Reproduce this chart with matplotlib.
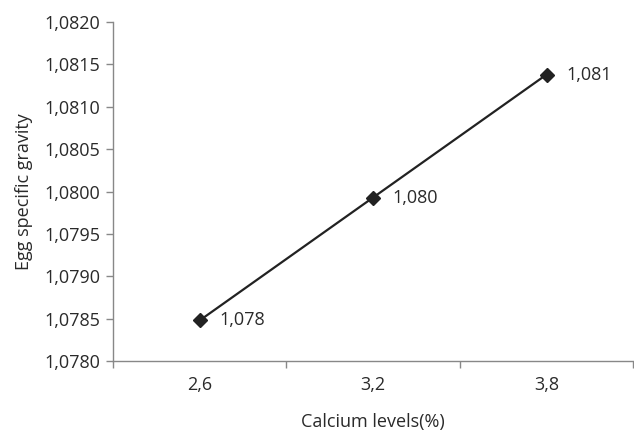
import matplotlib
matplotlib.use("Agg")
import matplotlib.pyplot as plt
from matplotlib.ticker import FuncFormatter, FixedLocator, MultipleLocator

categories = ["2,6", "3,2", "3,8"]
values = [1.07848, 1.07993, 1.08138]
point_labels = ["1,078", "1,080", "1,081"]

plt.rcParams['font.family'] = ['Open Sans', 'DejaVu Sans']

fig = plt.figure(figsize=(6.34, 4.30), dpi=100)
ax = fig.add_axes([0.178, 0.160, 0.821, 0.789])

x = list(range(len(categories)))
ax.plot(x, values, color="#222222", lw=1.6, marker="D", markersize=7,
        markerfacecolor="#222222", markeredgecolor="#222222")
for xi, v, lab in zip(x, values, point_labels):
    ax.annotate(lab, (xi, v), xytext=(14, 0), textcoords="offset points",
                va="center", ha="left", fontsize=13, color="#2a2a2a")

ax.set_xlim(-0.5, len(categories) - 0.5)
ax.set_ylim(1.0780, 1.0820)
ax.yaxis.set_major_locator(MultipleLocator(0.0005))
ax.yaxis.set_major_formatter(FuncFormatter(lambda v, p: f"{v:.4f}".replace(".", ",")))

ax.set_xticks(x)
ax.set_xticklabels(categories)
ax.xaxis.set_minor_locator(FixedLocator([i + 0.5 for i in range(-1, len(categories))]))
ax.tick_params(axis="x", which="major", length=0, pad=11, labelsize=13, labelcolor="#2a2a2a")
ax.tick_params(axis="x", which="minor", length=5, color="#888888", width=1)
ax.tick_params(axis="y", length=5, color="#888888", width=1, labelsize=13, labelcolor="#2a2a2a", pad=4)

for s in ["top", "right"]:
    ax.spines[s].set_visible(False)
for s in ["left", "bottom"]:
    ax.spines[s].set_color("#888888")
    ax.spines[s].set_linewidth(1)

ax.set_xlabel("Calcium levels(%)", fontsize=13, color="#2a2a2a", labelpad=13)
ax.set_ylabel("Egg specific gravity", fontsize=13, color="#2a2a2a", labelpad=8)

fig.savefig("out.png", dpi=100)
